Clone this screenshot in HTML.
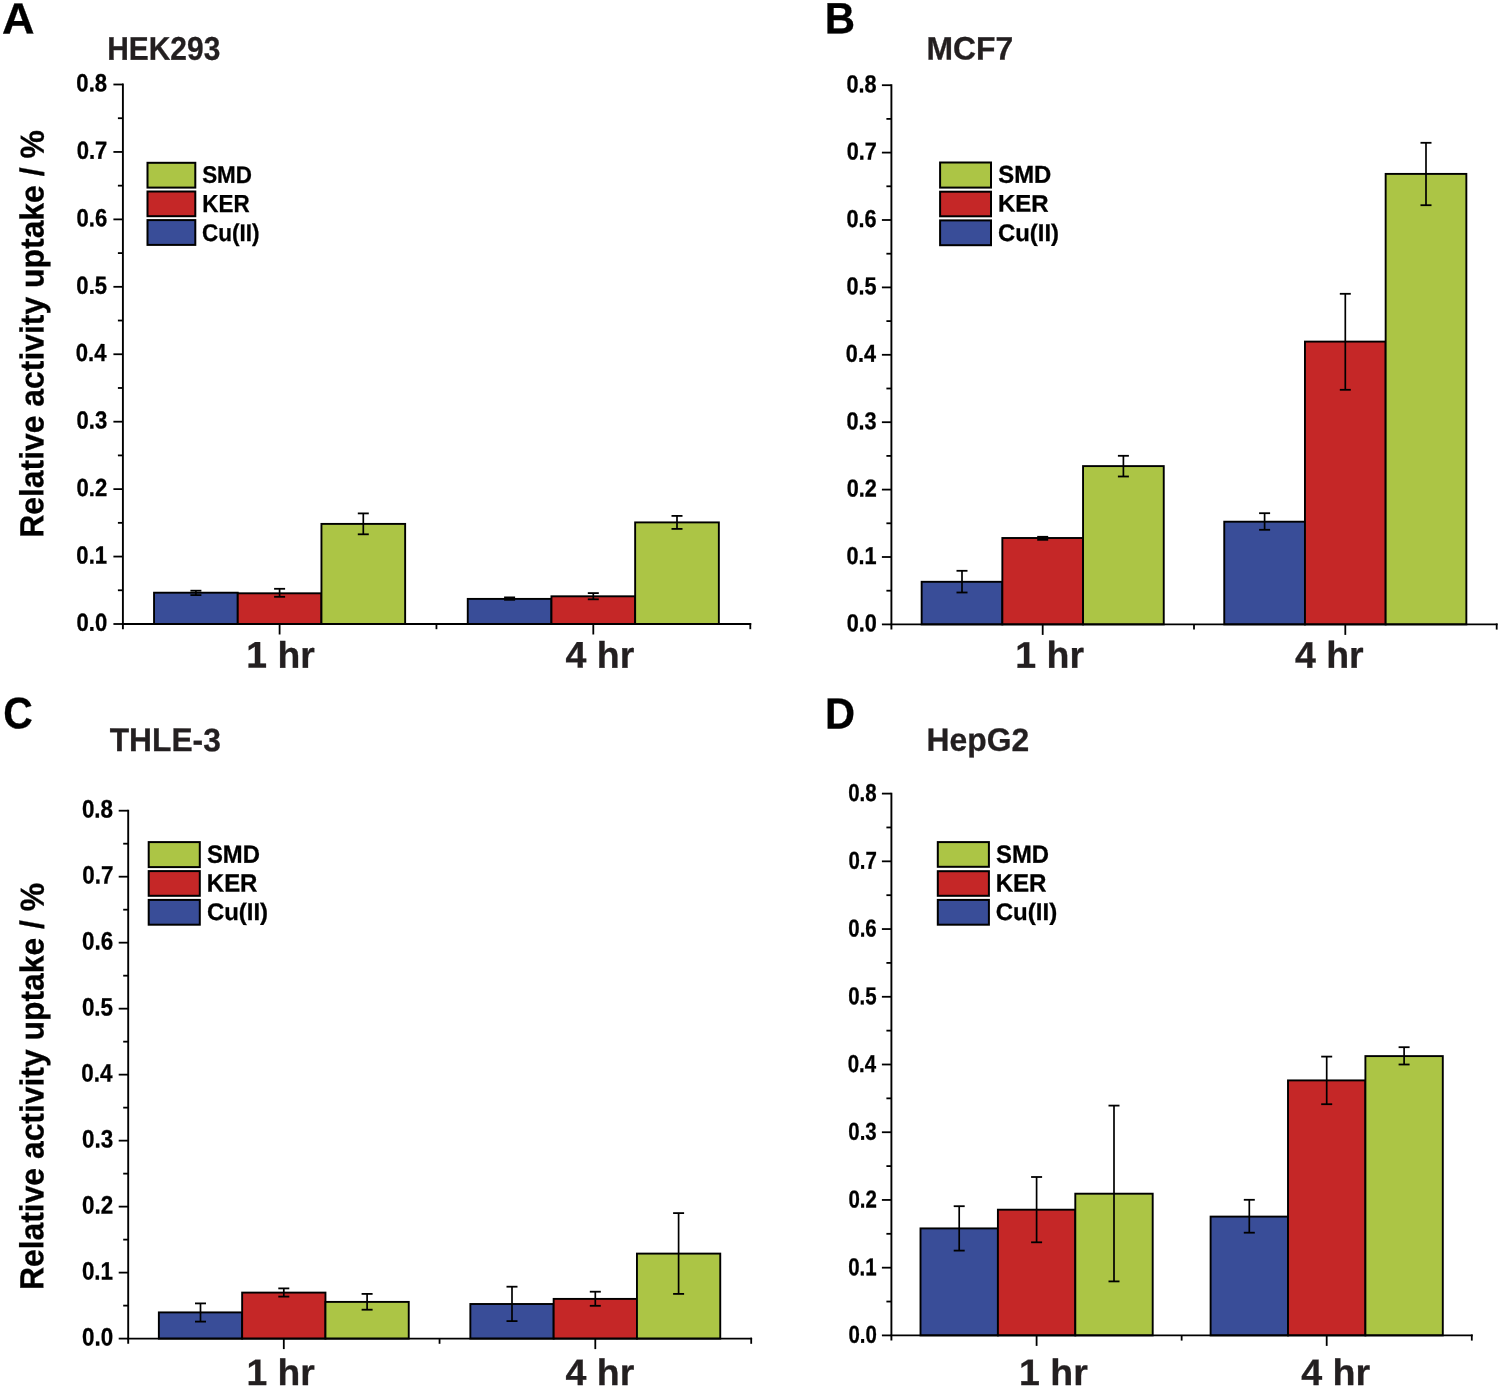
<!DOCTYPE html>
<html><head><meta charset="utf-8"><title>Relative activity uptake</title>
<style>html,body{margin:0;padding:0;background:#fff;}svg{display:block;}
text{font-family:"Liberation Sans",Arial,sans-serif;font-weight:bold;}</style></head>
<body><svg width="1501" height="1388" viewBox="0 0 1501 1388" text-rendering="geometricPrecision">
<rect width="1501" height="1388" fill="#fff"/>
<g id="panelA">
<rect x="154.05" y="592.70" width="83.70" height="31.30" fill="#394d98" stroke="#000" stroke-width="1.9"/>
<rect x="237.75" y="593.30" width="83.70" height="30.70" fill="#c52727" stroke="#000" stroke-width="1.9"/>
<rect x="321.45" y="523.90" width="83.70" height="100.10" fill="#acc545" stroke="#000" stroke-width="1.9"/>
<rect x="467.75" y="598.90" width="83.70" height="25.10" fill="#394d98" stroke="#000" stroke-width="1.9"/>
<rect x="551.45" y="596.30" width="83.70" height="27.70" fill="#c52727" stroke="#000" stroke-width="1.9"/>
<rect x="635.15" y="522.40" width="83.70" height="101.60" fill="#acc545" stroke="#000" stroke-width="1.9"/>
<line x1="195.90" y1="590.70" x2="195.90" y2="595.10" stroke="#000" stroke-width="1.7"/>
<line x1="190.40" y1="590.70" x2="201.40" y2="590.70" stroke="#000" stroke-width="1.8"/>
<line x1="190.40" y1="595.10" x2="201.40" y2="595.10" stroke="#000" stroke-width="1.8"/>
<line x1="279.60" y1="588.80" x2="279.60" y2="596.80" stroke="#000" stroke-width="1.7"/>
<line x1="274.10" y1="588.80" x2="285.10" y2="588.80" stroke="#000" stroke-width="1.8"/>
<line x1="274.10" y1="596.80" x2="285.10" y2="596.80" stroke="#000" stroke-width="1.8"/>
<line x1="363.30" y1="513.40" x2="363.30" y2="534.30" stroke="#000" stroke-width="1.7"/>
<line x1="357.80" y1="513.40" x2="368.80" y2="513.40" stroke="#000" stroke-width="1.8"/>
<line x1="357.80" y1="534.30" x2="368.80" y2="534.30" stroke="#000" stroke-width="1.8"/>
<line x1="509.60" y1="597.40" x2="509.60" y2="599.80" stroke="#000" stroke-width="1.7"/>
<line x1="504.10" y1="597.40" x2="515.10" y2="597.40" stroke="#000" stroke-width="1.8"/>
<line x1="504.10" y1="599.80" x2="515.10" y2="599.80" stroke="#000" stroke-width="1.8"/>
<line x1="593.30" y1="593.10" x2="593.30" y2="599.30" stroke="#000" stroke-width="1.7"/>
<line x1="587.80" y1="593.10" x2="598.80" y2="593.10" stroke="#000" stroke-width="1.8"/>
<line x1="587.80" y1="599.30" x2="598.80" y2="599.30" stroke="#000" stroke-width="1.8"/>
<line x1="677.00" y1="515.90" x2="677.00" y2="528.90" stroke="#000" stroke-width="1.7"/>
<line x1="671.50" y1="515.90" x2="682.50" y2="515.90" stroke="#000" stroke-width="1.8"/>
<line x1="671.50" y1="528.90" x2="682.50" y2="528.90" stroke="#000" stroke-width="1.8"/>
<line x1="122.90" y1="83.60" x2="122.90" y2="629.20" stroke="#000" stroke-width="1.9"/>
<line x1="122.00" y1="624.00" x2="751.20" y2="624.00" stroke="#000" stroke-width="1.9"/>
<line x1="113.40" y1="624.00" x2="122.90" y2="624.00" stroke="#000" stroke-width="1.8"/>
<line x1="117.90" y1="590.28" x2="122.90" y2="590.28" stroke="#000" stroke-width="1.8"/>
<line x1="113.40" y1="556.56" x2="122.90" y2="556.56" stroke="#000" stroke-width="1.8"/>
<line x1="117.90" y1="522.84" x2="122.90" y2="522.84" stroke="#000" stroke-width="1.8"/>
<line x1="113.40" y1="489.12" x2="122.90" y2="489.12" stroke="#000" stroke-width="1.8"/>
<line x1="117.90" y1="455.41" x2="122.90" y2="455.41" stroke="#000" stroke-width="1.8"/>
<line x1="113.40" y1="421.69" x2="122.90" y2="421.69" stroke="#000" stroke-width="1.8"/>
<line x1="117.90" y1="387.97" x2="122.90" y2="387.97" stroke="#000" stroke-width="1.8"/>
<line x1="113.40" y1="354.25" x2="122.90" y2="354.25" stroke="#000" stroke-width="1.8"/>
<line x1="117.90" y1="320.53" x2="122.90" y2="320.53" stroke="#000" stroke-width="1.8"/>
<line x1="113.40" y1="286.81" x2="122.90" y2="286.81" stroke="#000" stroke-width="1.8"/>
<line x1="117.90" y1="253.09" x2="122.90" y2="253.09" stroke="#000" stroke-width="1.8"/>
<line x1="113.40" y1="219.38" x2="122.90" y2="219.38" stroke="#000" stroke-width="1.8"/>
<line x1="117.90" y1="185.66" x2="122.90" y2="185.66" stroke="#000" stroke-width="1.8"/>
<line x1="113.40" y1="151.94" x2="122.90" y2="151.94" stroke="#000" stroke-width="1.8"/>
<line x1="117.90" y1="118.22" x2="122.90" y2="118.22" stroke="#000" stroke-width="1.8"/>
<line x1="113.40" y1="84.50" x2="122.90" y2="84.50" stroke="#000" stroke-width="1.8"/>
<line x1="279.60" y1="624.00" x2="279.60" y2="634.50" stroke="#000" stroke-width="1.8"/>
<line x1="593.30" y1="624.00" x2="593.30" y2="634.50" stroke="#000" stroke-width="1.8"/>
<line x1="436.45" y1="624.00" x2="436.45" y2="629.20" stroke="#000" stroke-width="1.8"/>
<line x1="750.30" y1="623.10" x2="750.30" y2="629.20" stroke="#000" stroke-width="1.8"/>
<text transform="translate(76.56,630.82) skewY(0.05) scale(0.8950,1)" font-size="24.70" fill="#000" stroke="#000" stroke-width="0.3">0.0</text>
<text transform="translate(76.34,563.38) skewY(0.05) scale(0.8950,1)" font-size="24.70" fill="#000" stroke="#000" stroke-width="0.3">0.1</text>
<text transform="translate(76.56,495.95) skewY(0.05) scale(0.8950,1)" font-size="24.70" fill="#000" stroke="#000" stroke-width="0.3">0.2</text>
<text transform="translate(76.45,428.51) skewY(0.05) scale(0.8950,1)" font-size="24.70" fill="#000" stroke="#000" stroke-width="0.3">0.3</text>
<text transform="translate(75.78,361.07) skewY(0.05) scale(0.8950,1)" font-size="24.70" fill="#000" stroke="#000" stroke-width="0.3">0.4</text>
<text transform="translate(76.34,293.63) skewY(0.05) scale(0.8950,1)" font-size="24.70" fill="#000" stroke="#000" stroke-width="0.3">0.5</text>
<text transform="translate(76.45,226.20) skewY(0.05) scale(0.8950,1)" font-size="24.70" fill="#000" stroke="#000" stroke-width="0.3">0.6</text>
<text transform="translate(76.67,158.76) skewY(0.05) scale(0.8950,1)" font-size="24.70" fill="#000" stroke="#000" stroke-width="0.3">0.7</text>
<text transform="translate(76.34,91.32) skewY(0.05) scale(0.8950,1)" font-size="24.70" fill="#000" stroke="#000" stroke-width="0.3">0.8</text>
<rect x="147.50" y="162.80" width="47.80" height="24.80" fill="#acc545" stroke="#000" stroke-width="2.0"/>
<rect x="147.50" y="191.50" width="47.80" height="24.70" fill="#c52727" stroke="#000" stroke-width="2.0"/>
<rect x="147.50" y="220.10" width="47.80" height="24.80" fill="#394d98" stroke="#000" stroke-width="2.0"/>
<text transform="translate(202.13,182.86) skewY(0.05) scale(0.9363,1)" font-size="23.94" fill="#000" stroke="#000" stroke-width="0.3">SMD</text>
<text transform="translate(202.24,212.00) skewY(0.05) scale(0.9102,1)" font-size="24.64" fill="#000" stroke="#000" stroke-width="0.3">KER</text>
<text transform="translate(202.10,240.92) skewY(0.05) scale(0.9315,1)" font-size="24.17" fill="#000" stroke="#000" stroke-width="0.3">Cu(II)</text>
<text transform="translate(107.15,59.77) skewY(0.05) scale(0.9106,1)" font-size="32.89" fill="#231f20" stroke="#231f20" stroke-width="0.3">HEK293</text>
<text transform="translate(2.07,33.40) skewY(0.05) scale(1.0299,1)" font-size="43.77" fill="#000" stroke="#000" stroke-width="0.3">A</text>
<text transform="translate(246.27,667.60) skewY(0.05) scale(1.0096,1)" font-size="36.97" fill="#231f20" stroke="#231f20" stroke-width="0.3">1 hr</text>
<text transform="translate(565.44,667.60) skewY(0.05) scale(1.0146,1)" font-size="36.97" fill="#231f20" stroke="#231f20" stroke-width="0.3">4 hr</text>
</g>
<g id="panelB">
<rect x="921.65" y="581.80" width="80.70" height="42.60" fill="#394d98" stroke="#000" stroke-width="1.9"/>
<rect x="1002.35" y="538.00" width="80.70" height="86.40" fill="#c52727" stroke="#000" stroke-width="1.9"/>
<rect x="1083.05" y="466.10" width="80.70" height="158.30" fill="#acc545" stroke="#000" stroke-width="1.9"/>
<rect x="1224.25" y="521.70" width="80.70" height="102.70" fill="#394d98" stroke="#000" stroke-width="1.9"/>
<rect x="1304.95" y="341.60" width="80.70" height="282.80" fill="#c52727" stroke="#000" stroke-width="1.9"/>
<rect x="1385.65" y="173.90" width="80.70" height="450.50" fill="#acc545" stroke="#000" stroke-width="1.9"/>
<line x1="962.00" y1="570.80" x2="962.00" y2="592.50" stroke="#000" stroke-width="1.7"/>
<line x1="956.50" y1="570.80" x2="967.50" y2="570.80" stroke="#000" stroke-width="1.8"/>
<line x1="956.50" y1="592.50" x2="967.50" y2="592.50" stroke="#000" stroke-width="1.8"/>
<line x1="1042.70" y1="536.80" x2="1042.70" y2="539.80" stroke="#000" stroke-width="1.7"/>
<line x1="1037.20" y1="536.80" x2="1048.20" y2="536.80" stroke="#000" stroke-width="1.8"/>
<line x1="1037.20" y1="539.80" x2="1048.20" y2="539.80" stroke="#000" stroke-width="1.8"/>
<line x1="1123.40" y1="455.80" x2="1123.40" y2="476.50" stroke="#000" stroke-width="1.7"/>
<line x1="1117.90" y1="455.80" x2="1128.90" y2="455.80" stroke="#000" stroke-width="1.8"/>
<line x1="1117.90" y1="476.50" x2="1128.90" y2="476.50" stroke="#000" stroke-width="1.8"/>
<line x1="1264.60" y1="513.20" x2="1264.60" y2="529.80" stroke="#000" stroke-width="1.7"/>
<line x1="1259.10" y1="513.20" x2="1270.10" y2="513.20" stroke="#000" stroke-width="1.8"/>
<line x1="1259.10" y1="529.80" x2="1270.10" y2="529.80" stroke="#000" stroke-width="1.8"/>
<line x1="1345.30" y1="293.80" x2="1345.30" y2="389.80" stroke="#000" stroke-width="1.7"/>
<line x1="1339.80" y1="293.80" x2="1350.80" y2="293.80" stroke="#000" stroke-width="1.8"/>
<line x1="1339.80" y1="389.80" x2="1350.80" y2="389.80" stroke="#000" stroke-width="1.8"/>
<line x1="1426.00" y1="142.80" x2="1426.00" y2="205.20" stroke="#000" stroke-width="1.7"/>
<line x1="1420.50" y1="142.80" x2="1431.50" y2="142.80" stroke="#000" stroke-width="1.8"/>
<line x1="1420.50" y1="205.20" x2="1431.50" y2="205.20" stroke="#000" stroke-width="1.8"/>
<line x1="891.40" y1="84.30" x2="891.40" y2="629.60" stroke="#000" stroke-width="1.9"/>
<line x1="890.50" y1="624.40" x2="1497.60" y2="624.40" stroke="#000" stroke-width="1.9"/>
<line x1="881.90" y1="624.40" x2="891.40" y2="624.40" stroke="#000" stroke-width="1.8"/>
<line x1="886.40" y1="590.70" x2="891.40" y2="590.70" stroke="#000" stroke-width="1.8"/>
<line x1="881.90" y1="557.00" x2="891.40" y2="557.00" stroke="#000" stroke-width="1.8"/>
<line x1="886.40" y1="523.30" x2="891.40" y2="523.30" stroke="#000" stroke-width="1.8"/>
<line x1="881.90" y1="489.60" x2="891.40" y2="489.60" stroke="#000" stroke-width="1.8"/>
<line x1="886.40" y1="455.90" x2="891.40" y2="455.90" stroke="#000" stroke-width="1.8"/>
<line x1="881.90" y1="422.20" x2="891.40" y2="422.20" stroke="#000" stroke-width="1.8"/>
<line x1="886.40" y1="388.50" x2="891.40" y2="388.50" stroke="#000" stroke-width="1.8"/>
<line x1="881.90" y1="354.80" x2="891.40" y2="354.80" stroke="#000" stroke-width="1.8"/>
<line x1="886.40" y1="321.10" x2="891.40" y2="321.10" stroke="#000" stroke-width="1.8"/>
<line x1="881.90" y1="287.40" x2="891.40" y2="287.40" stroke="#000" stroke-width="1.8"/>
<line x1="886.40" y1="253.70" x2="891.40" y2="253.70" stroke="#000" stroke-width="1.8"/>
<line x1="881.90" y1="220.00" x2="891.40" y2="220.00" stroke="#000" stroke-width="1.8"/>
<line x1="886.40" y1="186.30" x2="891.40" y2="186.30" stroke="#000" stroke-width="1.8"/>
<line x1="881.90" y1="152.60" x2="891.40" y2="152.60" stroke="#000" stroke-width="1.8"/>
<line x1="886.40" y1="118.90" x2="891.40" y2="118.90" stroke="#000" stroke-width="1.8"/>
<line x1="881.90" y1="85.20" x2="891.40" y2="85.20" stroke="#000" stroke-width="1.8"/>
<line x1="1042.70" y1="624.40" x2="1042.70" y2="634.90" stroke="#000" stroke-width="1.8"/>
<line x1="1345.30" y1="624.40" x2="1345.30" y2="634.90" stroke="#000" stroke-width="1.8"/>
<line x1="1194.00" y1="624.40" x2="1194.00" y2="629.60" stroke="#000" stroke-width="1.8"/>
<line x1="1496.70" y1="623.50" x2="1496.70" y2="629.60" stroke="#000" stroke-width="1.8"/>
<text transform="translate(846.63,631.35) skewY(0.05) scale(0.8850,1)" font-size="24.50" fill="#000" stroke="#000" stroke-width="0.3">0.0</text>
<text transform="translate(846.41,563.95) skewY(0.05) scale(0.8850,1)" font-size="24.50" fill="#000" stroke="#000" stroke-width="0.3">0.1</text>
<text transform="translate(846.63,496.55) skewY(0.05) scale(0.8850,1)" font-size="24.50" fill="#000" stroke="#000" stroke-width="0.3">0.2</text>
<text transform="translate(846.52,429.15) skewY(0.05) scale(0.8850,1)" font-size="24.50" fill="#000" stroke="#000" stroke-width="0.3">0.3</text>
<text transform="translate(845.87,361.75) skewY(0.05) scale(0.8850,1)" font-size="24.50" fill="#000" stroke="#000" stroke-width="0.3">0.4</text>
<text transform="translate(846.41,294.35) skewY(0.05) scale(0.8850,1)" font-size="24.50" fill="#000" stroke="#000" stroke-width="0.3">0.5</text>
<text transform="translate(846.52,226.95) skewY(0.05) scale(0.8850,1)" font-size="24.50" fill="#000" stroke="#000" stroke-width="0.3">0.6</text>
<text transform="translate(846.74,159.55) skewY(0.05) scale(0.8850,1)" font-size="24.50" fill="#000" stroke="#000" stroke-width="0.3">0.7</text>
<text transform="translate(846.41,92.15) skewY(0.05) scale(0.8850,1)" font-size="24.50" fill="#000" stroke="#000" stroke-width="0.3">0.8</text>
<rect x="940.10" y="162.50" width="50.90" height="25.10" fill="#acc545" stroke="#000" stroke-width="2.0"/>
<rect x="940.10" y="191.70" width="50.90" height="24.60" fill="#c52727" stroke="#000" stroke-width="2.0"/>
<rect x="940.10" y="220.40" width="50.90" height="24.80" fill="#394d98" stroke="#000" stroke-width="2.0"/>
<text transform="translate(998.28,182.76) skewY(0.05) scale(0.9792,1)" font-size="24.37" fill="#000" stroke="#000" stroke-width="0.3">SMD</text>
<text transform="translate(997.94,211.60) skewY(0.05) scale(1.0041,1)" font-size="23.91" fill="#000" stroke="#000" stroke-width="0.3">KER</text>
<text transform="translate(998.05,240.97) skewY(0.05) scale(0.9957,1)" font-size="23.96" fill="#000" stroke="#000" stroke-width="0.3">Cu(II)</text>
<text transform="translate(926.43,59.47) skewY(0.05) scale(0.9791,1)" font-size="32.54" fill="#231f20" stroke="#231f20" stroke-width="0.3">MCF7</text>
<text transform="translate(824.67,33.20) skewY(0.05) scale(0.9620,1)" font-size="43.62" fill="#000" stroke="#000" stroke-width="0.3">B</text>
<text transform="translate(1015.16,667.80) skewY(0.05) scale(1.0083,1)" font-size="37.24" fill="#231f20" stroke="#231f20" stroke-width="0.3">1 hr</text>
<text transform="translate(1294.94,667.80) skewY(0.05) scale(1.0071,1)" font-size="37.24" fill="#231f20" stroke="#231f20" stroke-width="0.3">4 hr</text>
</g>
<g id="panelC">
<rect x="158.85" y="1312.40" width="83.30" height="26.20" fill="#394d98" stroke="#000" stroke-width="1.9"/>
<rect x="242.15" y="1292.60" width="83.30" height="46.00" fill="#c52727" stroke="#000" stroke-width="1.9"/>
<rect x="325.45" y="1301.90" width="83.30" height="36.70" fill="#acc545" stroke="#000" stroke-width="1.9"/>
<rect x="470.35" y="1304.00" width="83.30" height="34.60" fill="#394d98" stroke="#000" stroke-width="1.9"/>
<rect x="553.65" y="1298.90" width="83.30" height="39.70" fill="#c52727" stroke="#000" stroke-width="1.9"/>
<rect x="636.95" y="1253.60" width="83.30" height="85.00" fill="#acc545" stroke="#000" stroke-width="1.9"/>
<line x1="200.50" y1="1303.40" x2="200.50" y2="1321.60" stroke="#000" stroke-width="1.7"/>
<line x1="195.00" y1="1303.40" x2="206.00" y2="1303.40" stroke="#000" stroke-width="1.8"/>
<line x1="195.00" y1="1321.60" x2="206.00" y2="1321.60" stroke="#000" stroke-width="1.8"/>
<line x1="283.80" y1="1288.40" x2="283.80" y2="1296.60" stroke="#000" stroke-width="1.7"/>
<line x1="278.30" y1="1288.40" x2="289.30" y2="1288.40" stroke="#000" stroke-width="1.8"/>
<line x1="278.30" y1="1296.60" x2="289.30" y2="1296.60" stroke="#000" stroke-width="1.8"/>
<line x1="367.10" y1="1293.90" x2="367.10" y2="1309.70" stroke="#000" stroke-width="1.7"/>
<line x1="361.60" y1="1293.90" x2="372.60" y2="1293.90" stroke="#000" stroke-width="1.8"/>
<line x1="361.60" y1="1309.70" x2="372.60" y2="1309.70" stroke="#000" stroke-width="1.8"/>
<line x1="512.00" y1="1286.70" x2="512.00" y2="1321.10" stroke="#000" stroke-width="1.7"/>
<line x1="506.50" y1="1286.70" x2="517.50" y2="1286.70" stroke="#000" stroke-width="1.8"/>
<line x1="506.50" y1="1321.10" x2="517.50" y2="1321.10" stroke="#000" stroke-width="1.8"/>
<line x1="595.30" y1="1291.70" x2="595.30" y2="1305.80" stroke="#000" stroke-width="1.7"/>
<line x1="589.80" y1="1291.70" x2="600.80" y2="1291.70" stroke="#000" stroke-width="1.8"/>
<line x1="589.80" y1="1305.80" x2="600.80" y2="1305.80" stroke="#000" stroke-width="1.8"/>
<line x1="678.60" y1="1213.10" x2="678.60" y2="1293.90" stroke="#000" stroke-width="1.7"/>
<line x1="673.10" y1="1213.10" x2="684.10" y2="1213.10" stroke="#000" stroke-width="1.8"/>
<line x1="673.10" y1="1293.90" x2="684.10" y2="1293.90" stroke="#000" stroke-width="1.8"/>
<line x1="128.20" y1="809.80" x2="128.20" y2="1343.80" stroke="#000" stroke-width="1.9"/>
<line x1="127.30" y1="1338.60" x2="752.10" y2="1338.60" stroke="#000" stroke-width="1.9"/>
<line x1="118.70" y1="1338.60" x2="128.20" y2="1338.60" stroke="#000" stroke-width="1.8"/>
<line x1="123.20" y1="1305.61" x2="128.20" y2="1305.61" stroke="#000" stroke-width="1.8"/>
<line x1="118.70" y1="1272.61" x2="128.20" y2="1272.61" stroke="#000" stroke-width="1.8"/>
<line x1="123.20" y1="1239.62" x2="128.20" y2="1239.62" stroke="#000" stroke-width="1.8"/>
<line x1="118.70" y1="1206.62" x2="128.20" y2="1206.62" stroke="#000" stroke-width="1.8"/>
<line x1="123.20" y1="1173.63" x2="128.20" y2="1173.63" stroke="#000" stroke-width="1.8"/>
<line x1="118.70" y1="1140.64" x2="128.20" y2="1140.64" stroke="#000" stroke-width="1.8"/>
<line x1="123.20" y1="1107.64" x2="128.20" y2="1107.64" stroke="#000" stroke-width="1.8"/>
<line x1="118.70" y1="1074.65" x2="128.20" y2="1074.65" stroke="#000" stroke-width="1.8"/>
<line x1="123.20" y1="1041.66" x2="128.20" y2="1041.66" stroke="#000" stroke-width="1.8"/>
<line x1="118.70" y1="1008.66" x2="128.20" y2="1008.66" stroke="#000" stroke-width="1.8"/>
<line x1="123.20" y1="975.67" x2="128.20" y2="975.67" stroke="#000" stroke-width="1.8"/>
<line x1="118.70" y1="942.67" x2="128.20" y2="942.67" stroke="#000" stroke-width="1.8"/>
<line x1="123.20" y1="909.68" x2="128.20" y2="909.68" stroke="#000" stroke-width="1.8"/>
<line x1="118.70" y1="876.69" x2="128.20" y2="876.69" stroke="#000" stroke-width="1.8"/>
<line x1="123.20" y1="843.69" x2="128.20" y2="843.69" stroke="#000" stroke-width="1.8"/>
<line x1="118.70" y1="810.70" x2="128.20" y2="810.70" stroke="#000" stroke-width="1.8"/>
<line x1="283.80" y1="1338.60" x2="283.80" y2="1349.10" stroke="#000" stroke-width="1.8"/>
<line x1="595.30" y1="1338.60" x2="595.30" y2="1349.10" stroke="#000" stroke-width="1.8"/>
<line x1="439.55" y1="1338.60" x2="439.55" y2="1343.80" stroke="#000" stroke-width="1.8"/>
<line x1="751.20" y1="1337.70" x2="751.20" y2="1343.80" stroke="#000" stroke-width="1.8"/>
<text transform="translate(82.12,1345.49) skewY(0.05) scale(0.8900,1)" font-size="25.20" fill="#000" stroke="#000" stroke-width="0.3">0.0</text>
<text transform="translate(81.90,1279.51) skewY(0.05) scale(0.8900,1)" font-size="25.20" fill="#000" stroke="#000" stroke-width="0.3">0.1</text>
<text transform="translate(82.12,1213.52) skewY(0.05) scale(0.8900,1)" font-size="25.20" fill="#000" stroke="#000" stroke-width="0.3">0.2</text>
<text transform="translate(82.01,1147.53) skewY(0.05) scale(0.8900,1)" font-size="25.20" fill="#000" stroke="#000" stroke-width="0.3">0.3</text>
<text transform="translate(81.34,1081.54) skewY(0.05) scale(0.8900,1)" font-size="25.20" fill="#000" stroke="#000" stroke-width="0.3">0.4</text>
<text transform="translate(81.90,1015.56) skewY(0.05) scale(0.8900,1)" font-size="25.20" fill="#000" stroke="#000" stroke-width="0.3">0.5</text>
<text transform="translate(82.01,949.57) skewY(0.05) scale(0.8900,1)" font-size="25.20" fill="#000" stroke="#000" stroke-width="0.3">0.6</text>
<text transform="translate(82.23,883.58) skewY(0.05) scale(0.8900,1)" font-size="25.20" fill="#000" stroke="#000" stroke-width="0.3">0.7</text>
<text transform="translate(81.90,817.59) skewY(0.05) scale(0.8900,1)" font-size="25.20" fill="#000" stroke="#000" stroke-width="0.3">0.8</text>
<rect x="148.70" y="842.10" width="51.10" height="25.00" fill="#acc545" stroke="#000" stroke-width="2.0"/>
<rect x="148.70" y="871.10" width="51.10" height="24.70" fill="#c52727" stroke="#000" stroke-width="2.0"/>
<rect x="148.70" y="899.90" width="51.10" height="24.80" fill="#394d98" stroke="#000" stroke-width="2.0"/>
<text transform="translate(206.88,862.75) skewY(0.05) scale(0.9571,1)" font-size="24.93" fill="#000" stroke="#000" stroke-width="0.3">SMD</text>
<text transform="translate(206.84,891.40) skewY(0.05) scale(0.9612,1)" font-size="24.93" fill="#000" stroke="#000" stroke-width="0.3">KER</text>
<text transform="translate(206.94,919.97) skewY(0.05) scale(0.9991,1)" font-size="23.96" fill="#000" stroke="#000" stroke-width="0.3">Cu(II)</text>
<text transform="translate(109.68,751.07) skewY(0.05) scale(0.9717,1)" font-size="32.68" fill="#231f20" stroke="#231f20" stroke-width="0.3">THLE-3</text>
<text transform="translate(3.16,728.36) skewY(0.05) scale(0.9252,1)" font-size="44.23" fill="#000" stroke="#000" stroke-width="0.3">C</text>
<text transform="translate(246.48,1385.00) skewY(0.05) scale(1.0119,1)" font-size="36.83" fill="#231f20" stroke="#231f20" stroke-width="0.3">1 hr</text>
<text transform="translate(565.54,1385.00) skewY(0.05) scale(1.0184,1)" font-size="36.83" fill="#231f20" stroke="#231f20" stroke-width="0.3">4 hr</text>
</g>
<g id="panelD">
<rect x="920.50" y="1228.40" width="77.40" height="107.00" fill="#394d98" stroke="#000" stroke-width="1.9"/>
<rect x="997.90" y="1209.70" width="77.40" height="125.70" fill="#c52727" stroke="#000" stroke-width="1.9"/>
<rect x="1075.30" y="1193.70" width="77.40" height="141.70" fill="#acc545" stroke="#000" stroke-width="1.9"/>
<rect x="1210.60" y="1216.60" width="77.40" height="118.80" fill="#394d98" stroke="#000" stroke-width="1.9"/>
<rect x="1288.00" y="1080.40" width="77.40" height="255.00" fill="#c52727" stroke="#000" stroke-width="1.9"/>
<rect x="1365.40" y="1056.10" width="77.40" height="279.30" fill="#acc545" stroke="#000" stroke-width="1.9"/>
<line x1="959.20" y1="1206.20" x2="959.20" y2="1250.60" stroke="#000" stroke-width="1.7"/>
<line x1="953.70" y1="1206.20" x2="964.70" y2="1206.20" stroke="#000" stroke-width="1.8"/>
<line x1="953.70" y1="1250.60" x2="964.70" y2="1250.60" stroke="#000" stroke-width="1.8"/>
<line x1="1036.60" y1="1177.00" x2="1036.60" y2="1242.30" stroke="#000" stroke-width="1.7"/>
<line x1="1031.10" y1="1177.00" x2="1042.10" y2="1177.00" stroke="#000" stroke-width="1.8"/>
<line x1="1031.10" y1="1242.30" x2="1042.10" y2="1242.30" stroke="#000" stroke-width="1.8"/>
<line x1="1114.00" y1="1105.60" x2="1114.00" y2="1281.40" stroke="#000" stroke-width="1.7"/>
<line x1="1108.50" y1="1105.60" x2="1119.50" y2="1105.60" stroke="#000" stroke-width="1.8"/>
<line x1="1108.50" y1="1281.40" x2="1119.50" y2="1281.40" stroke="#000" stroke-width="1.8"/>
<line x1="1249.30" y1="1199.80" x2="1249.30" y2="1232.70" stroke="#000" stroke-width="1.7"/>
<line x1="1243.80" y1="1199.80" x2="1254.80" y2="1199.80" stroke="#000" stroke-width="1.8"/>
<line x1="1243.80" y1="1232.70" x2="1254.80" y2="1232.70" stroke="#000" stroke-width="1.8"/>
<line x1="1326.70" y1="1056.60" x2="1326.70" y2="1104.20" stroke="#000" stroke-width="1.7"/>
<line x1="1321.20" y1="1056.60" x2="1332.20" y2="1056.60" stroke="#000" stroke-width="1.8"/>
<line x1="1321.20" y1="1104.20" x2="1332.20" y2="1104.20" stroke="#000" stroke-width="1.8"/>
<line x1="1404.10" y1="1047.20" x2="1404.10" y2="1064.50" stroke="#000" stroke-width="1.7"/>
<line x1="1398.60" y1="1047.20" x2="1409.60" y2="1047.20" stroke="#000" stroke-width="1.8"/>
<line x1="1398.60" y1="1064.50" x2="1409.60" y2="1064.50" stroke="#000" stroke-width="1.8"/>
<line x1="891.40" y1="792.70" x2="891.40" y2="1340.60" stroke="#000" stroke-width="1.9"/>
<line x1="890.50" y1="1335.40" x2="1472.70" y2="1335.40" stroke="#000" stroke-width="1.9"/>
<line x1="881.90" y1="1335.40" x2="891.40" y2="1335.40" stroke="#000" stroke-width="1.8"/>
<line x1="886.40" y1="1301.54" x2="891.40" y2="1301.54" stroke="#000" stroke-width="1.8"/>
<line x1="881.90" y1="1267.68" x2="891.40" y2="1267.68" stroke="#000" stroke-width="1.8"/>
<line x1="886.40" y1="1233.81" x2="891.40" y2="1233.81" stroke="#000" stroke-width="1.8"/>
<line x1="881.90" y1="1199.95" x2="891.40" y2="1199.95" stroke="#000" stroke-width="1.8"/>
<line x1="886.40" y1="1166.09" x2="891.40" y2="1166.09" stroke="#000" stroke-width="1.8"/>
<line x1="881.90" y1="1132.23" x2="891.40" y2="1132.23" stroke="#000" stroke-width="1.8"/>
<line x1="886.40" y1="1098.36" x2="891.40" y2="1098.36" stroke="#000" stroke-width="1.8"/>
<line x1="881.90" y1="1064.50" x2="891.40" y2="1064.50" stroke="#000" stroke-width="1.8"/>
<line x1="886.40" y1="1030.64" x2="891.40" y2="1030.64" stroke="#000" stroke-width="1.8"/>
<line x1="881.90" y1="996.78" x2="891.40" y2="996.78" stroke="#000" stroke-width="1.8"/>
<line x1="886.40" y1="962.91" x2="891.40" y2="962.91" stroke="#000" stroke-width="1.8"/>
<line x1="881.90" y1="929.05" x2="891.40" y2="929.05" stroke="#000" stroke-width="1.8"/>
<line x1="886.40" y1="895.19" x2="891.40" y2="895.19" stroke="#000" stroke-width="1.8"/>
<line x1="881.90" y1="861.33" x2="891.40" y2="861.33" stroke="#000" stroke-width="1.8"/>
<line x1="886.40" y1="827.46" x2="891.40" y2="827.46" stroke="#000" stroke-width="1.8"/>
<line x1="881.90" y1="793.60" x2="891.40" y2="793.60" stroke="#000" stroke-width="1.8"/>
<line x1="1036.60" y1="1335.40" x2="1036.60" y2="1345.90" stroke="#000" stroke-width="1.8"/>
<line x1="1326.70" y1="1335.40" x2="1326.70" y2="1345.90" stroke="#000" stroke-width="1.8"/>
<line x1="1181.65" y1="1335.40" x2="1181.65" y2="1340.60" stroke="#000" stroke-width="1.8"/>
<line x1="1471.80" y1="1334.50" x2="1471.80" y2="1340.60" stroke="#000" stroke-width="1.8"/>
<text transform="translate(848.38,1342.85) skewY(0.05) scale(0.8350,1)" font-size="24.50" fill="#000" stroke="#000" stroke-width="0.3">0.0</text>
<text transform="translate(848.18,1275.13) skewY(0.05) scale(0.8350,1)" font-size="24.50" fill="#000" stroke="#000" stroke-width="0.3">0.1</text>
<text transform="translate(848.38,1207.40) skewY(0.05) scale(0.8350,1)" font-size="24.50" fill="#000" stroke="#000" stroke-width="0.3">0.2</text>
<text transform="translate(848.28,1139.68) skewY(0.05) scale(0.8350,1)" font-size="24.50" fill="#000" stroke="#000" stroke-width="0.3">0.3</text>
<text transform="translate(847.67,1071.95) skewY(0.05) scale(0.8350,1)" font-size="24.50" fill="#000" stroke="#000" stroke-width="0.3">0.4</text>
<text transform="translate(848.18,1004.23) skewY(0.05) scale(0.8350,1)" font-size="24.50" fill="#000" stroke="#000" stroke-width="0.3">0.5</text>
<text transform="translate(848.28,936.50) skewY(0.05) scale(0.8350,1)" font-size="24.50" fill="#000" stroke="#000" stroke-width="0.3">0.6</text>
<text transform="translate(848.48,868.78) skewY(0.05) scale(0.8350,1)" font-size="24.50" fill="#000" stroke="#000" stroke-width="0.3">0.7</text>
<text transform="translate(848.18,801.05) skewY(0.05) scale(0.8350,1)" font-size="24.50" fill="#000" stroke="#000" stroke-width="0.3">0.8</text>
<rect x="937.80" y="842.10" width="51.10" height="24.70" fill="#acc545" stroke="#000" stroke-width="2.0"/>
<rect x="937.80" y="871.20" width="51.10" height="24.60" fill="#c52727" stroke="#000" stroke-width="2.0"/>
<rect x="937.80" y="899.90" width="51.10" height="24.80" fill="#394d98" stroke="#000" stroke-width="2.0"/>
<text transform="translate(995.98,862.75) skewY(0.05) scale(0.9571,1)" font-size="24.93" fill="#000" stroke="#000" stroke-width="0.3">SMD</text>
<text transform="translate(995.63,891.40) skewY(0.05) scale(0.9672,1)" font-size="24.93" fill="#000" stroke="#000" stroke-width="0.3">KER</text>
<text transform="translate(995.74,919.97) skewY(0.05) scale(1.0042,1)" font-size="23.96" fill="#000" stroke="#000" stroke-width="0.3">Cu(II)</text>
<text transform="translate(926.53,750.82) skewY(0.05) scale(0.9851,1)" font-size="32.31" fill="#231f20" stroke="#231f20" stroke-width="0.3">HepG2</text>
<text transform="translate(824.89,728.40) skewY(0.05) scale(0.9511,1)" font-size="43.77" fill="#000" stroke="#000" stroke-width="0.3">D</text>
<text transform="translate(1018.96,1385.00) skewY(0.05) scale(1.0181,1)" font-size="36.83" fill="#231f20" stroke="#231f20" stroke-width="0.3">1 hr</text>
<text transform="translate(1301.13,1385.00) skewY(0.05) scale(1.0230,1)" font-size="36.83" fill="#231f20" stroke="#231f20" stroke-width="0.3">4 hr</text>
</g>
<text transform="translate(43.30,537.77) rotate(-90) skewY(0.05) scale(0.9565,1)" font-size="33.33" fill="#000" stroke="#000" stroke-width="0.3">Relative activity uptake / %</text>
<text transform="translate(43.30,1290.07) rotate(-90) skewY(0.05) scale(0.9556,1)" font-size="33.33" fill="#000" stroke="#000" stroke-width="0.3">Relative activity uptake / %</text>
</svg></body></html>
